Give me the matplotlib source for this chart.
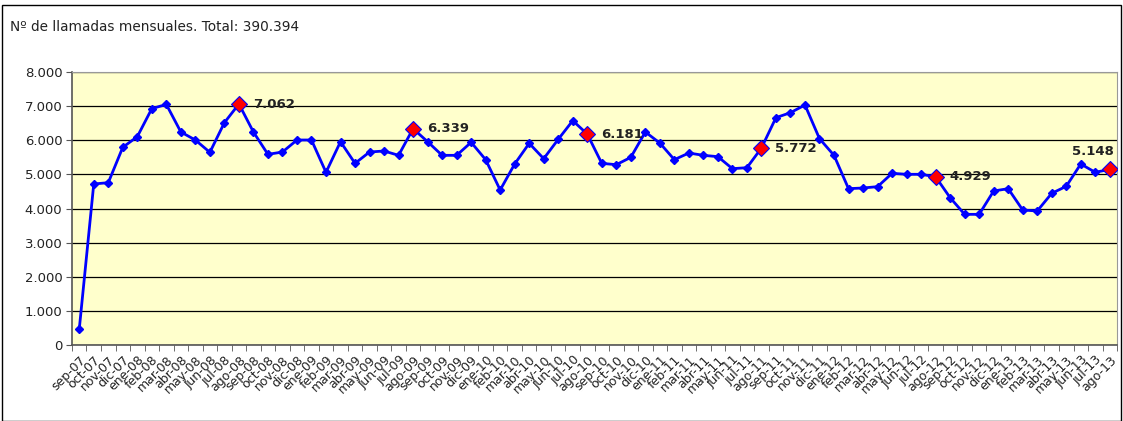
import numpy as np
import matplotlib.pyplot as plt
from matplotlib.patches import Rectangle

# monthly calls, sep-07 .. ago-13
months = ["sep", "oct", "nov", "dic", "ene", "feb", "mar", "abr", "may", "jun", "jul", "ago"]
labels = []
for i in range(72):
    m = months[i % 12]
    yr = 7 + (i + 8) // 12
    labels.append(f"{m}-{yr:02d}")

calls = [460, 4718, 4757, 5793, 6105, 6926, 7050, 6242, 6007, 5646, 6515, 7062,
         6242, 5587, 5655, 6007, 6007, 5060, 5958, 5323, 5655, 5685, 5558, 6339,
         5958, 5558, 5558, 5939, 5431, 4542, 5304, 5910, 5460, 6027, 6574, 6181,
         5323, 5284, 5499, 6242, 5919, 5431, 5626, 5558, 5519, 5167, 5196, 5772,
         6662, 6808, 7033, 6046, 5558, 4581, 4601, 4640, 5031, 5002, 5002, 4929,
         4317, 3829, 3829, 4513, 4581, 3956, 3927, 4445, 4650, 5304, 5060, 5148]

# highlighted months (agosto of each year)
highlight_idx = [11, 23, 35, 47, 59, 71]
total_label = "390.394"


def fmt(v):
    return f"{v:,}".replace(",", ".")


fig = plt.figure(figsize=(11.23, 4.21), dpi=100)
fig.patches.append(Rectangle((0.002, 0.0), 0.996, 0.988, transform=fig.transFigure,
                             fill=False, edgecolor="black", linewidth=1.0))
fig.text(0.009, 0.935, f"Nº de llamadas mensuales. Total: {total_label}",
         fontsize=9.8, color="#222222", ha="left", va="center")

ax = fig.add_axes([0.0641, 0.1805, 0.9306, 0.6485])
ax.set_facecolor("#FFFFCC")

x = np.arange(len(calls))
ax.plot(x, calls, color="#0000FF", linewidth=2, marker="D", markersize=4,
        markerfacecolor="#0000FF", markeredgecolor="#0000FF", zorder=3)

hx = [x[i] for i in highlight_idx]
hy = [calls[i] for i in highlight_idx]
ax.plot(hx, hy, linestyle="none", marker="D", markersize=8,
        markerfacecolor="#FF0000", markeredgecolor="#0000FF", markeredgewidth=0.8, zorder=4)

for i in highlight_idx:
    if i == highlight_idx[-1]:
        ax.annotate(fmt(calls[i]), (x[i], calls[i]), xytext=(-12, 8),
                    textcoords="offset points", ha="center", va="bottom",
                    fontsize=9.5, fontweight="bold", color="#222222")
    else:
        ax.annotate(fmt(calls[i]), (x[i], calls[i]), xytext=(10, 0),
                    textcoords="offset points", ha="left", va="center",
                    fontsize=9.5, fontweight="bold", color="#222222")

ax.set_xlim(-0.5, len(calls) - 0.5)
ax.set_ylim(0, 8000)
yt = np.arange(0, 8001, 1000)
ax.set_yticks(yt)
ax.set_yticklabels([fmt(v) for v in yt], fontsize=9.5, color="#222222")
ax.yaxis.grid(True, color="black", linewidth=0.9)
ax.set_axisbelow(True)

ax.set_xticks(x)
ax.set_xticklabels(labels, rotation=45, ha="right", rotation_mode="anchor",
                   fontsize=9, color="#222222")
ax.set_xticks(np.arange(-0.5, len(calls), 1), minor=True)
ax.tick_params(axis="x", which="major", length=0, pad=6)
ax.tick_params(axis="x", which="minor", length=4, color="#555555", direction="out")
ax.tick_params(axis="y", length=4, color="#555555", direction="out", pad=3)

for side in ["left", "bottom"]:
    ax.spines[side].set_color("#555555")
    ax.spines[side].set_linewidth(1.2)
for side in ["top", "right"]:
    ax.spines[side].set_color("#999999")
    ax.spines[side].set_linewidth(0.8)

fig.savefig("out.png", dpi=100)
